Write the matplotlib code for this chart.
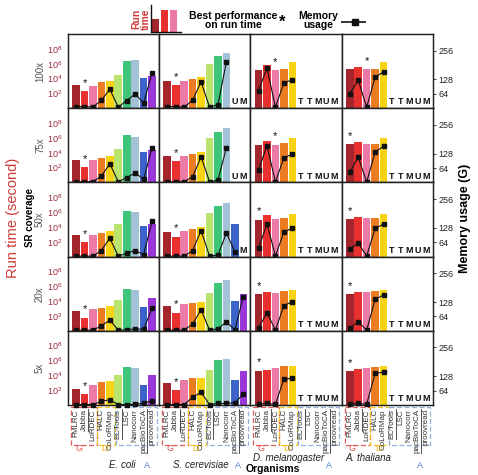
import numpy as np
import matplotlib as mpl
import matplotlib.pyplot as plt
from matplotlib.patches import Rectangle
from matplotlib.lines import Line2D

mpl.rcParams.update({
    'font.family': ['Liberation Sans', 'DejaVu Sans'],
    'figure.facecolor': 'white',
    'axes.facecolor': 'white',
    'mathtext.default': 'regular',
})

TOOLS = ['FMLRC', 'Jabba', 'LoRDEC', 'HALC', 'CoLoRMap', 'ECTools',
         'LSC', 'Nanocorr', 'pacBioToCA', 'proovread']
UNDERLINED = ['Jabba', 'ECTools', 'pacBioToCA']
COLORS = ['#a3262c', '#e8302f', '#ec7aa6', '#ec7c22', '#f7d314',
          '#b9e46e', '#3ec57a', '#a3c2d6', '#3b63c9', '#9b37d8']
ORGANISMS = ['E. coli', 'S. cerevisiae', 'D. melanogaster', 'A. thaliana']
COVERAGES = ['100x', '75x', '50x', '20x', '5x']

# run time in seconds, one list per organism (None = not run)
RT_100X = [
    [1200, 190, 1000, 3200, 5000, 32000, 2.0e6, 3.2e6, 12600, 25000],
    [5000, 1200, 4500, 7400, 16000, 1.0e6, 1.26e7, 3.2e7, None, None],
    [1.6e5, 6.3e5, 1.26e5, 2.1e5, 1.6e6, None, None, None, None, None],
    [2.1e5, 3.2e5, 2.0e5, 2.2e5, 1.6e6, None, None, None, None, None],
]
RT_75X = [
    [1000, 126, 1000, 2100, 3500, 27500, 2.3e6, 1.26e6, 11000, 23000],
    [4000, 700, 4000, 6000, 11000, 1.0e6, 6.3e6, 2.0e7, None, None],
    [1.26e5, 4.4e5, 1.26e5, 2.0e5, 9.1e5, None, None, None, None, None],
    [1.6e5, 2.4e5, 1.7e5, 1.7e5, 9.1e5, None, None, None, None, None],
]
RT_50X = [
    [800, 85, 800, 1600, 2750, 27500, 1.6e6, 9.1e5, 13500, 27500],
    [2200, 500, 2500, 5000, 10000, 8.0e5, 6.3e6, 1.6e7, 28000, None],
    [1.0e5, 3.6e5, 1.26e5, 1.7e5, 6.0e5, None, None, None, None, None],
    [1.26e5, 2.1e5, 1.6e5, 1.7e5, 6.0e5, None, None, None, None, None],
]
RT_20X = [
    [470, 60, 800, 1260, 2100, 16000, 5.0e5, 3.6e5, 1450, 23000],
    [2100, 275, 4000, 5400, 8000, 1.26e5, 2.75e6, 6.3e6, 11000, 80000],
    [80000, 1.6e5, 1.45e5, 2.0e5, 3.6e5, None, None, None, None, None],
    [80000, 1.6e5, 1.7e5, 2.0e5, 3.6e5, None, None, None, None, None],
]
RT_5X = [
    [150, 32, 470, 1200, 1700, 11000, 1.45e5, 1.0e5, 470, 12600],
    [800, 100, 2600, 4400, 4400, 47000, 1.26e6, 1.6e6, 2600, 40000],
    [42000, 58000, 95000, 1.6e5, 1.6e5, None, None, None, None, None],
    [34000, 69000, 95000, 1.26e5, 2.0e5, None, None, None, None, None],
]

# memory usage in GB
MEM_100X = [
    [7, 7, 5, 35, 84, 5, 34, 63, 23, 157],
    [7, 7, 5, 35, 117, 5, 16, 206],
    [78, 178, 5, 112, 127],
    [64, 124, 5, 138, 162],
]
MEM_75X = [
    [3, 3, 3, 28, 83, 3, 21, 43, 13, 155],
    [3, 3, 3, 25, 114, 3, 10, 155],
    [55, 164, 2, 109, 126],
    [45, 112, 2, 135, 161],
]
MEM_50X = [
    [2, 2, 2, 27, 82, 2, 15, 27, 9, 158],
    [2, 2, 2, 27, 116, 2, 7, 105, 22],
    [37, 146, 3, 109, 127],
    [33, 60, 3, 125, 145],
]
MEM_20X = [
    [3, 3, 3, 22, 48, 3, 4, 9, 6, 101],
    [3, 3, 3, 30, 94, 3, 9, 40, 4, 152],
    [13, 80, 3, 112, 130],
    [13, 40, 3, 140, 159],
]
MEM_5X = [
    [2, 2, 2, 16, 24, 2, 2, 3, 9, 18],
    [2, 2, 2, 34, 57, 2, 7, 7, 10, 48],
    [4, 7, 3, 115, 119],
    [4, 7, 3, 142, 145],
]

# reason a tool has no result, filling the trailing slots
FAIL_100X = ['', 'UM', 'TTMUM', 'TTMUM']
FAIL_75X = ['', 'UM', 'TTMUM', 'TTMUM']
FAIL_50X = ['', 'M', 'TTMUM', 'TTMUM']
FAIL_20X = ['', '', 'TTMUM', 'TTMUM']
FAIL_5X = ['', '', 'TTMUM', 'TTMUM']

# index of the fastest tool
BEST_100X = [1, 1, 2, 2]
BEST_75X = [1, 1, 2, 0]
BEST_50X = [1, 1, 0, 0]
BEST_20X = [1, 1, 0, 0]
BEST_5X = [1, 1, 0, 0]

RUNTIME = [RT_100X, RT_75X, RT_50X, RT_20X, RT_5X]
MEMORY = [MEM_100X, MEM_75X, MEM_50X, MEM_20X, MEM_5X]
FAILS = [FAIL_100X, FAIL_75X, FAIL_50X, FAIL_20X, FAIL_5X]
BEST = [BEST_100X, BEST_75X, BEST_50X, BEST_20X, BEST_5X]

W, H = 478, 475
PX_L, PX_R, PX_T, PX_B = 68, 433, 34, 405
PW = (PX_R - PX_L) / 4
PH = (PX_B - PX_T) / 5

C_TICK = '#9e2b3c'
C_RUN = '#cf3a3a'
C_EDGE = '#222222'

ORG_X = [5.5, 4.0, 3.6, 2.2]
ORG_Y = [-0.81, -0.81, -0.72, -0.72]


def rect(x0, y0, x1, y1):
    return [x0 / W, 1 - y1 / H, (x1 - x0) / W, (y1 - y0) / H]


fig = plt.figure(figsize=(W / 100, H / 100), dpi=100)


def ftext(x, y, s, **kw):
    fig.text(x / W, 1 - y / H, s, **kw)


bottom_axes = []
for r in range(5):
    for c in range(4):
        x0 = PX_L + c * PW
        y0 = PX_T + r * PH
        ax = fig.add_axes(rect(x0, y0, x0 + PW, y0 + PH))
        rt = RUNTIME[r][c]
        idx = [i for i, v in enumerate(rt) if v is not None]
        ax.bar(idx, [rt[i] for i in idx], width=0.9,
               color=[COLORS[i] for i in idx], zorder=2)
        ax.set_yscale('log')
        ax.set_ylim(1, 1e10)
        ax.set_xlim(-0.95, 9.85)

        b = BEST[r][c]
        ax.text(b, rt[b] * 10 ** 1.1, '*', ha='center', va='center',
                fontsize=8, color='#111111', zorder=4)

        fails = FAILS[r][c]
        for k, ch in enumerate(fails):
            ax.text(10 - len(fails) + k, 10 ** 0.85, ch, ha='center',
                    va='center', fontsize=6.5, fontweight='bold',
                    color='#111111')

        ax.set_yticks([1e2, 1e4, 1e6, 1e8])
        ax.minorticks_off()
        if c == 0:
            ax.set_yticklabels(['$10^2$', '$10^4$', '$10^6$', '$10^8$'],
                               fontsize=6.5, color=C_TICK)
            ax.tick_params(axis='y', length=0, pad=4)
        else:
            ax.tick_params(axis='y', length=0, labelleft=False)

        ax.set_xticks(range(10))
        if r == 4:
            ax.set_xticklabels(TOOLS, rotation=90, fontsize=5.8,
                               color='#333333')
            ax.tick_params(axis='x', length=0, pad=3)
            bottom_axes.append(ax)
        else:
            ax.tick_params(axis='x', length=0, labelbottom=False)

        ax2 = ax.twinx()
        mem = MEMORY[r][c]
        ax2.plot(range(len(mem)), mem, color='#111111', lw=0.8,
                 marker='s', ms=3.2, clip_on=False, zorder=3)
        ax2.set_ylim(0, 330)
        ax2.set_yticks([64, 128, 256])
        if c == 3:
            ax2.tick_params(axis='y', length=2, width=0.6, labelsize=6.5,
                            pad=2, colors='#222222')
        else:
            ax2.tick_params(axis='y', length=0, labelright=False)

        for a in (ax, ax2):
            for s in a.spines.values():
                s.set_color(C_EDGE)
                s.set_linewidth(0.9)

    ftext(40, PX_T + (r + 0.5) * PH, COVERAGES[r], rotation=90,
          ha='center', va='center', fontsize=7, color='#555555')

# group boxes below tool names
GROUPS = [('G', -0.6, 2.45, '#e05a55', '#e0504c', -0.585),
          ('D', 2.45, 4.6, '#f2c72a', '#f0b400', -0.585),
          ('A', 4.69, 9.55, '#93b2df', '#4a7fd0', -0.81)]
for c, ax in enumerate(bottom_axes):
    tr = ax.get_xaxis_transform()
    for name, xa, xb, ec, tc, ly in GROUPS:
        ax.add_patch(Rectangle((xa, -0.025), xb - xa, -0.51, transform=tr,
                               fill=False, ec=ec, lw=0.9, ls=(0, (4, 2)),
                               clip_on=False))
        lx = xa + 0.9 if name != 'A' else xb - 1.2
        ax.text(lx, ly, name, transform=tr, ha='center', va='center',
                fontsize=6.5, color=tc)
    ax.text(ORG_X[c], ORG_Y[c], ORGANISMS[c], transform=tr, ha='center',
            va='center', fontsize=7, fontstyle='italic', color='#222222')

# underline some tool names (rotated text: line on its right side)
fig.canvas.draw()
for ax in bottom_axes:
    for lab in ax.get_xticklabels():
        if lab.get_text() in UNDERLINED:
            bb = lab.get_window_extent()
            xx = (bb.x1 + 0.3) / fig.bbox.width
            fig.add_artist(Line2D([xx, xx], [bb.y0 / fig.bbox.height,
                                             bb.y1 / fig.bbox.height],
                                  color='#333333', lw=0.6))

ftext(273, 469.5, 'Organisms', ha='center', va='center', fontsize=7.5,
      fontweight='bold')
ftext(13, 218, 'Run time (second)', rotation=90, ha='center', va='center',
      fontsize=10.5, color=C_RUN)
ftext(30, 218, 'SR coverage', rotation=90, ha='center', va='center',
      fontsize=7, fontweight='bold')
ftext(465, 218, 'Memory usage (G)', rotation=90, ha='center', va='center',
      fontsize=9, fontweight='bold')

# legend at the top
leg = fig.add_axes(rect(150.7, 5, 181, 31.7))
leg.bar([0, 1, 2], [0.6, 1.0, 1.0], width=0.8, color=COLORS[:3])
leg.set_xlim(-0.6, 2.9)
leg.set_ylim(0, 1.25)
leg.set_xticks([])
leg.set_yticks([])
for k in ('top', 'right'):
    leg.spines[k].set_visible(False)
for k in ('left', 'bottom'):
    leg.spines[k].set_linewidth(1.0)
    leg.spines[k].set_color('#111111')
ftext(141, 19, 'Run\ntime', rotation=90, ha='center', va='center',
      fontsize=7.5, fontweight='bold', color=C_RUN, linespacing=0.9)
ftext(233, 20.5, 'Best performance\non run time', ha='center', va='center',
      fontsize=7.5, fontweight='bold', linespacing=0.95)
ftext(282, 22, '*', ha='center', va='center', fontsize=12, fontweight='bold')
ftext(318, 20.5, 'Memory\nusage', ha='center', va='center',
      fontsize=7.5, fontweight='bold', linespacing=0.95)
lm = fig.add_axes(rect(341, 15, 366, 28))
lm.plot([0, 1], [0, 0], color='#111111', lw=1.2)
lm.plot([0.55], [0], color='#111111', marker='s', ms=4.5)
lm.set_xlim(0, 1)
lm.set_ylim(-1, 1)
lm.axis('off')

fig.savefig('out.png', dpi=100)
